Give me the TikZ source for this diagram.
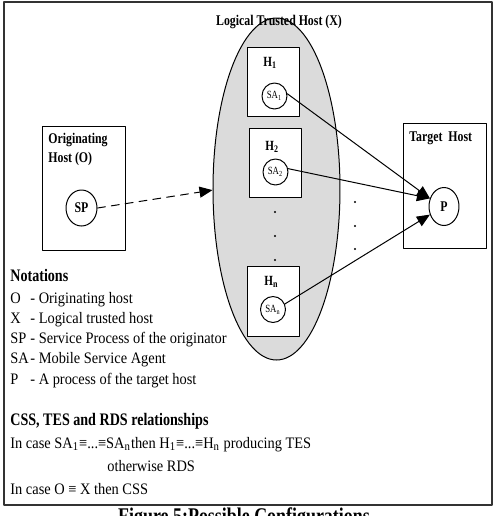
\documentclass[tikz,border=0pt]{standalone}
\usepackage{fontspec}
\usepackage{tikz}
\usetikzlibrary{shapes.geometric}
\usetikzlibrary{arrows.meta}
\setmainfont{Liberation Serif}
\newfontfamily\notefont[FakeStretch=0.9]{Liberation Serif}
\newfontfamily\labelfont[FakeStretch=0.8]{Liberation Serif}
\newcommand{\notitem}[2]{\makebox[10pt][l]{#1}- #2}
\definecolor{dcdcdc}{rgb}{0.86,0.86,0.86}
\definecolor{qqqqqq}{rgb}{0.2,0.2,0.2}
\tikzstyle{every node}=[inner sep=0pt]

\begin{document}
\begin{tikzpicture}[line cap=round,line join=round,>={Triangle[length=6.5pt,width=5.5pt]},x=0.5pt,y=-0.5pt,
  hostbox/.style={draw,line width=0.5pt,fill=white,minimum width=26pt,minimum height=34.5pt},
  agent/.style={draw,ellipse,line width=0.5pt,minimum width=12.5pt,minimum height=13pt,font=\labelfont\fontsize{5.5}{6}\selectfont},
  proc/.style={draw,ellipse,line width=0.5pt,fill=white,minimum width=15pt,minimum height=19pt,font=\labelfont\bfseries\fontsize{7.4}{9}\selectfont},
  lbl/.style={font=\labelfont\bfseries\fontsize{7.4}{9}\selectfont},
  head/.style={anchor=base west,font=\labelfont\bfseries\fontsize{8.8}{10}\selectfont},
  note/.style={anchor=base west,font=\notefont\fontsize{8}{10}\selectfont}]
\useasboundingbox (0,0) rectangle (494,516);
\clip (0,0) rectangle (494,516);
\draw [line width=0.75pt,color=qqqqqq] (4,2) rectangle (492,505);
% logical trusted host
\node [draw,ellipse,line width=0.5pt,fill=dcdcdc,minimum width=63.5pt,minimum height=171pt] (trusted) at (276.5,189) {};
\node [lbl,anchor=base] (trustedlbl) at (279,25) {Logical Trusted Host (X)};
\node [hostbox] (h1) at (274,81.5) {};
\node [hostbox] (h2) at (276,162.5) {};
\node [hostbox,minimum height=35pt] (hn) at (274,301) {};
\node [lbl,anchor=base west,font=\labelfont\bfseries\fontsize{7}{8}\selectfont] (h1lbl) at (263,66) {H\textsubscript{1}};
\node [lbl,anchor=base west,font=\labelfont\bfseries\fontsize{7}{8}\selectfont] (h2lbl) at (265,150) {H\textsubscript{2}};
\node [lbl,anchor=base west,font=\labelfont\bfseries\fontsize{7}{8}\selectfont] (hnlbl) at (264,285) {H\textsubscript{n}};
\node [agent] (sa1) at (274.5,96) {SA\textsubscript{1}};
\node [agent] (sa2) at (275.5,172) {SA\textsubscript{2}};
\node [agent] (san) at (273,309.5) {SA\textsubscript{n}};
\fill (275,212) circle (0.6pt);
\fill (275,236) circle (0.6pt);
\fill (275,260) circle (0.6pt);
\fill (355,202) circle (0.6pt);
\fill (355,226) circle (0.6pt);
\fill (355,249) circle (0.6pt);
% originating and target hosts
\node [hostbox,minimum width=41.5pt,minimum height=62pt] (orig) at (84.5,188) {};
\node [lbl,anchor=base west] (origlbl) at (48,143) {Originating};
\node [lbl,anchor=base west] (origlbl2) at (48,162) {Host (O)};
\node [proc,minimum width=15.5pt,minimum height=18pt] (sp) at (81.5,208) {SP};
\node [hostbox,minimum width=41.5pt,minimum height=62.5pt] (target) at (445.5,185.5) {};
\node [lbl,anchor=base west] (targetlbl) at (409,141) {Target\ \ Host};
\node [proc] (p) at (444,206.5) {P};
\draw [->,line width=0.5pt,dash pattern=on 4pt off 3pt] (sp.east) -- (trusted.181);
\draw [->,line width=0.5pt] (sa1.10) -- (p.150);
\draw [->,line width=0.5pt] (sa2.15) -- (p.150);
\draw [->,line width=0.5pt] (san.25) -- (p.210);
% notations
\node [head] (notations) at (10,281.5) {Notations};
\node [note] (noteo) at (10,303) {\notitem{O}{Originating host}};
\node [note] (notex) at (10,323) {\notitem{X}{Logical trusted host}};
\node [note] (notesp) at (10,343.5) {\notitem{SP}{Service Process of the originator}};
\node [note] (notesa) at (10,363.5) {\notitem{SA}{Mobile Service Agent}};
\node [note] (notep) at (10,384) {\notitem{P}{A process of the target host}};
\node [head] (relhead) at (10,425.5) {CSS, TES and RDS relationships};
\node [note] (rel1) at (10,448) {In case SA\textsubscript{1}≡...≡SA\textsubscript{n}then H\textsubscript{1}≡...≡H\textsubscript{n} producing TES};
\node [note] (rel2) at (107,471) {otherwise RDS};
\node [note] (rel3) at (10,494) {In case O ≡ X then CSS};
\node [anchor=base,font=\labelfont\bfseries\fontsize{11.2}{13}\selectfont] (caption) at (244,523) {Figure 5:Possible Configurations};
\end{tikzpicture}
\end{document}
